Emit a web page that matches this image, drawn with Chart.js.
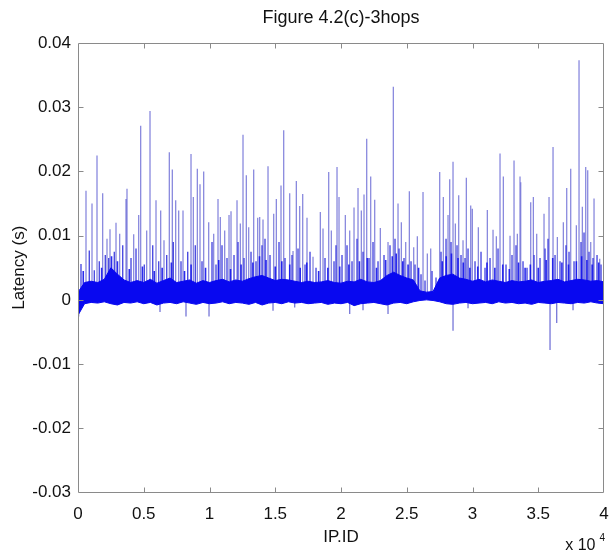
<!DOCTYPE html>
<html lang="en">
<head>
    <meta charset="UTF-8">
    <title>Figure 4.2(c)-3hops</title>
    <script src="https://cdn.jsdelivr.net/npm/chart.js"></script>
    <style>
        body { margin: 0; background: #fff; }
    </style>
</head>
<body>
    <canvas id="myChart" width="613" height="554"></canvas>

    <script>
        // tick values and their labels (x is in units of 10^4)
        const xTickValues = [0, 5000, 10000, 15000, 20000, 25000, 30000, 35000, 40000];
        const xTickLabels = ['0', '0.5', '1', '1.5', '2', '2.5', '3', '3.5', '4'];
        const yTickValues = [-0.03, -0.02, -0.01, 0, 0.01, 0.02, 0.03, 0.04];
        const yTickLabels = ['-0.03', '-0.02', '-0.01', '0', '0.01', '0.02', '0.03', '0.04'];

        // dense band of the latency trace: upper / lower edge every 500 IP.IDs
        const bandIds = [
            0, 500, 1000, 1500, 2000, 2500, 3000, 3500, 4000, 4500,
            5000, 5500, 6000, 6500, 7000, 7500, 8000, 8500, 9000, 9500,
            10000, 10500, 11000, 11500, 12000, 12500, 13000, 13500, 14000, 14500,
            15000, 15500, 16000, 16500, 17000, 17500, 18000, 18500, 19000, 19500,
            20000, 20500, 21000, 21500, 22000, 22500, 23000, 23500, 24000, 24500,
            25000, 25500, 26000, 26500, 27000, 27500, 28000, 28500, 29000, 29500,
            30000, 30500, 31000, 31500, 32000, 32500, 33000, 33500, 34000, 34500,
            35000, 35500, 36000, 36500, 37000, 37500, 38000, 38500, 39000, 39500,
            40000
        ];
        const bandUpper = [
            0.0012, 0.0027, 0.0029, 0.0027, 0.0032, 0.0050, 0.0040, 0.0031, 0.0027, 0.0030,
            0.0027, 0.0032, 0.0026, 0.0030, 0.0034, 0.0027, 0.0029, 0.0031, 0.0026, 0.0030,
            0.0027, 0.0030, 0.0032, 0.0028, 0.0031, 0.0029, 0.0033, 0.0036, 0.0038, 0.0034,
            0.0030, 0.0032, 0.0031, 0.0029, 0.0027, 0.0029, 0.0027, 0.0028, 0.0030, 0.0027,
            0.0026, 0.0029, 0.0028, 0.0032, 0.0028, 0.0027, 0.0030, 0.0038, 0.0043, 0.0038,
            0.0034, 0.0031, 0.0014, 0.0012, 0.0013, 0.0034, 0.0038, 0.0040, 0.0034, 0.0032,
            0.0029, 0.0032, 0.0028, 0.0031, 0.0029, 0.0027, 0.0030, 0.0028, 0.0029, 0.0031,
            0.0027, 0.0029, 0.0030, 0.0032, 0.0028, 0.0030, 0.0032, 0.0031, 0.0029, 0.0030,
            0.0028
        ];
        const bandLower = [
            -0.0024, -0.0006, -0.0004, -0.0005, -0.0003, -0.0006, -0.0008, -0.0004, -0.0005, -0.0003,
            -0.0006, -0.0004, -0.0008, -0.0005, -0.0004, -0.0006, -0.0003, -0.0005, -0.0007, -0.0004,
            -0.0006, -0.0005, -0.0003, -0.0006, -0.0004, -0.0005, -0.0007, -0.0004, -0.0008, -0.0005,
            -0.0004, -0.0006, -0.0003, -0.0005, -0.0004, -0.0006, -0.0005, -0.0004, -0.0007, -0.0005,
            -0.0006, -0.0004, -0.0009, -0.0006, -0.0005, -0.0004, -0.0006, -0.0008, -0.0005, -0.0004,
            -0.0006, -0.0003, -0.0001, 0.0000, -0.0001, -0.0003, -0.0006, -0.0007, -0.0005, -0.0004,
            -0.0006, -0.0005, -0.0004, -0.0006, -0.0003, -0.0005, -0.0004, -0.0006, -0.0005, -0.0007,
            -0.0004, -0.0005, -0.0006, -0.0004, -0.0005, -0.0006, -0.0004, -0.0005, -0.0003, -0.0005,
            -0.0006
        ];

        // tall latency spikes (IP.ID, peak latency in s)
        const spikeIds = [
            608, 1065, 1445, 1878, 2205, 2434, 2890, 3171, 3650, 3726,
            4236, 4616, 4768, 5225, 5476, 5932, 6289, 6540, 6943, 7171,
            7430, 7658, 7985, 8594, 8769, 9073, 9278, 9559, 9940, 10320,
            10647, 10822, 11156, 11484, 11636, 12092, 12343, 12548, 12799, 12982,
            13362, 13666, 13818, 14069, 14450, 14883, 15081, 15438, 15644, 16100,
            16351, 16602, 16860, 17089, 17415, 17872, 18427, 18632, 19066, 19263,
            19697, 19849, 20328, 20663, 20990, 21294, 21545, 21750, 21956, 22260,
            22564, 22990, 23576, 23978, 24336, 24587, 24922, 25196, 25530, 25804,
            26237, 26564, 26823, 27507, 27781, 28139, 28268, 28519, 28694, 28952,
            29279, 29530, 29865, 29986, 30443, 31127, 31561, 31812, 32093, 32344,
            32854, 33158, 33409, 33614, 33667, 34428, 34626, 34884, 35439, 35820,
            36124, 36451, 36907, 37166, 37470, 37896, 38101, 38352, 38611, 38763,
            38991, 39242, 39676
        ];
        const spikePeaks = [
            0.0170, 0.0150, 0.0225, 0.0166, 0.0095, 0.0110, 0.0120, 0.0103, 0.0157, 0.0173,
            0.0102, 0.0132, 0.0271, 0.0108, 0.0294, 0.0155, 0.0139, 0.0093, 0.0230, 0.0203,
            0.0155, 0.0139, 0.0139, 0.0227, 0.0160, 0.0204, 0.0180, 0.0200, 0.0121, 0.0103,
            0.0157, 0.0129, 0.0108, 0.0132, 0.0138, 0.0155, 0.0119, 0.0257, 0.0194, 0.0113,
            0.0203, 0.0128, 0.0129, 0.0125, 0.0208, 0.0134, 0.0157, 0.0178, 0.0264, 0.0166,
            0.0076, 0.0185, 0.0146, 0.0165, 0.0128, 0.0067, 0.0137, 0.0111, 0.0199, 0.0108,
            0.0207, 0.0160, 0.0132, 0.0108, 0.0144, 0.0174, 0.0139, 0.0164, 0.0251, 0.0192,
            0.0156, 0.0112, 0.0090, 0.0332, 0.0150, 0.0121, 0.0090, 0.0169, 0.0082, 0.0099,
            0.0168, 0.0072, 0.0080, 0.0199, 0.0160, 0.0132, 0.0188, 0.0215, 0.0119, 0.0163,
            0.0093, 0.0190, 0.0147, 0.0142, 0.0113, 0.0140, 0.0109, 0.0099, 0.0228, 0.0192,
            0.0100, 0.0217, 0.0103, 0.0192, 0.0183, 0.0152, 0.0160, 0.0103, 0.0134, 0.0160,
            0.0238, 0.0098, 0.0121, 0.0174, 0.0204, 0.0116, 0.0373, 0.0145, 0.0207, 0.0202,
            0.0090, 0.0158, 0.0064
        ];

        // medium spikes just above the band
        const midIds = [
            228, 859, 1240, 1620, 2076, 2335, 2761, 3400, 4031, 4411,
            5042, 5681, 6137, 6746, 7248, 7833, 8343, 8921, 9430, 10191,
            10495, 10951, 11331, 11864, 12168, 12624, 13157, 13537, 13993, 14221,
            14602, 15286, 15742, 16275, 16731, 17264, 17644, 18100, 18784, 19469,
            19621, 20077, 20457, 20838, 21218, 21674, 22131, 22435, 22815, 23271,
            23728, 24108, 24412, 24792, 25325, 25629, 26085, 26389, 26922, 27226,
            27606, 27987, 28367, 28823, 29127, 29432, 29660, 30192, 30648, 30952,
            31333, 31941, 32549, 33005, 33310, 33842, 34146, 34679, 35135, 35515,
            35744, 36276, 36656, 37112, 37340, 37721, 38253, 38481, 38861, 39166,
            39470, 39774
        ];
        const midPeaks = [
            0.0056, 0.0077, 0.0046, 0.0060, 0.0070, 0.0065, 0.0075, 0.0085, 0.0065, 0.0080,
            0.0055, 0.0085, 0.0060, 0.0070, 0.0090, 0.0060, 0.0075, 0.0085, 0.0060, 0.0090,
            0.0055, 0.0085, 0.0065, 0.0070, 0.0090, 0.0065, 0.0075, 0.0060, 0.0085, 0.0095,
            0.0070, 0.0090, 0.0065, 0.0070, 0.0080, 0.0055, 0.0075, 0.0050, 0.0065, 0.0060,
            0.0085, 0.0070, 0.0085, 0.0060, 0.0095, 0.0075, 0.0065, 0.0090, 0.0060, 0.0070,
            0.0085, 0.0095, 0.0080, 0.0065, 0.0060, 0.0055, 0.0040, 0.0030, 0.0045, 0.0035,
            0.0075, 0.0095, 0.0090, 0.0085, 0.0070, 0.0065, 0.0080, 0.0060, 0.0075, 0.0050,
            0.0065, 0.0080, 0.0055, 0.0070, 0.0085, 0.0060, 0.0050, 0.0070, 0.0065, 0.0080,
            0.0095, 0.0070, 0.0060, 0.0085, 0.0075, 0.0060, 0.0090, 0.0105, 0.0075, 0.0065,
            0.0070, 0.0055
        ];

        // small spikes that roughen the top of the band
        const smallIds = [
            400, 1800, 2550, 3000, 3900, 4900, 5800, 6400, 7100, 8100,
            8600, 9700, 10700, 11600, 12400, 13300, 13800, 14300, 15000, 15500,
            16100, 16900, 17400, 18300, 19000, 19900, 20600, 21400, 22000, 22700,
            23400, 23900, 24200, 24700, 25100, 25900, 27700, 28000, 28400, 28900,
            29300, 29800, 30400, 31100, 31700, 32300, 32800, 33500, 34000, 34400,
            35000, 35600, 36100, 36800, 37300, 37900, 38300, 38700, 39100, 39600
        ];
        const smallPeaks = [
            0.0045, 0.0050, 0.0068, 0.0060, 0.0048, 0.0052, 0.0045, 0.0050, 0.0058, 0.0045,
            0.0055, 0.0050, 0.0062, 0.0048, 0.0055, 0.0058, 0.0068, 0.0062, 0.0052, 0.0060,
            0.0055, 0.0050, 0.0058, 0.0045, 0.0050, 0.0052, 0.0055, 0.0060, 0.0065, 0.0050,
            0.0062, 0.0068, 0.0072, 0.0060, 0.0055, 0.0050, 0.0060, 0.0068, 0.0072, 0.0065,
            0.0058, 0.0050, 0.0052, 0.0058, 0.0050, 0.0055, 0.0048, 0.0058, 0.0050, 0.0055,
            0.0050, 0.0062, 0.0065, 0.0058, 0.0055, 0.0060, 0.0068, 0.0062, 0.0055, 0.0058
        ];

        // downward spikes
        const negIds = [53, 6236, 8213, 9963, 14830, 16480, 20663, 21674, 23576, 28519, 29660, 35896, 36405, 37645];
        const negPeaks = [-0.0026, -0.0019, -0.0026, -0.0026, -0.0017, -0.0012, -0.0022, -0.0016, -0.0022, -0.0048, -0.0013, -0.0078, -0.0036, -0.0016];

        const FONT = "'Liberation Sans', Arial, Helvetica, sans-serif";
        const TITLE = 'Figure 4.2(c)-3hops';

        function stems(ids, peaks, base) {
            const pts = [];
            ids.forEach((id, i) => {
                pts.push({ x: id, y: base }, { x: id, y: peaks[i] }, { x: id, y: null });
            });
            return pts;
        }

        // MATLAB style box with inward ticks on all four sides,
        // title centred over the axes and the "x 10^4" note
        const matlabBox = {
            id: 'matlabBox',
            afterDraw(chart) {
                const { ctx, chartArea: a, scales } = chart;
                const L = Math.round(a.left) + 0.5, R = Math.round(a.right) - 0.5;
                const T = Math.round(a.top) + 0.5, B = Math.round(a.bottom) - 0.5;
                const len = 5;
                ctx.save();
                ctx.strokeStyle = '#8a8a8a';
                ctx.lineWidth = 1;
                ctx.beginPath();
                ctx.rect(L, T, R - L, B - T);
                scales.x.ticks.forEach(t => {
                    const px = Math.round(scales.x.getPixelForValue(t.value)) + 0.5;
                    if (px <= L + 1 || px >= R - 1) return;
                    ctx.moveTo(px, B); ctx.lineTo(px, B - len);
                    ctx.moveTo(px, T); ctx.lineTo(px, T + len);
                });
                scales.y.ticks.forEach(t => {
                    const py = Math.round(scales.y.getPixelForValue(t.value)) + 0.5;
                    if (py <= T + 1 || py >= B - 1) return;
                    ctx.moveTo(L, py); ctx.lineTo(L + len, py);
                    ctx.moveTo(R, py); ctx.lineTo(R - len, py);
                });
                ctx.stroke();

                ctx.fillStyle = '#111';
                ctx.textAlign = 'center';
                ctx.textBaseline = 'middle';
                ctx.font = '18px ' + FONT;
                ctx.fillText(TITLE, (a.left + a.right) / 2, 18);

                ctx.textBaseline = 'alphabetic';
                ctx.textAlign = 'right';
                ctx.font = '16px ' + FONT;
                ctx.fillText('x 10', R - 8, 550);
                ctx.textAlign = 'left';
                ctx.font = '10px ' + FONT;
                ctx.fillText('4', R - 4, 541);
                ctx.restore();
            }
        };

        const ctx = document.getElementById('myChart');
        const myChart = new Chart(ctx, {
            type: 'line',
            data: {
                datasets: [
                    {
                        label: 'band upper',
                        data: bandIds.map((id, i) => ({ x: id, y: bandUpper[i] })),
                        borderColor: '#0808f0',
                        backgroundColor: '#0808f0',
                        borderWidth: 1,
                        pointRadius: 0,
                        fill: '+1',
                        tension: 0,
                        order: 0
                    },
                    {
                        label: 'band lower',
                        data: bandIds.map((id, i) => ({ x: id, y: bandLower[i] })),
                        borderColor: '#0808f0',
                        borderWidth: 1,
                        pointRadius: 0,
                        fill: false,
                        order: 0
                    },
                    {
                        label: 'small spikes',
                        data: stems(smallIds, smallPeaks, 0.001),
                        borderColor: 'rgba(20,20,235,0.9)',
                        borderWidth: 1.6,
                        pointRadius: 0,
                        spanGaps: false,
                        order: 1
                    },
                    {
                        label: 'mid spikes',
                        data: stems(midIds, midPeaks, 0.001),
                        borderColor: 'rgba(45,45,220,0.85)',
                        borderWidth: 1.4,
                        pointRadius: 0,
                        spanGaps: false,
                        order: 2
                    },
                    {
                        label: 'spikes',
                        data: stems(spikeIds, spikePeaks, 0.001),
                        borderColor: 'rgba(95,95,210,0.8)',
                        borderWidth: 1.2,
                        pointRadius: 0,
                        spanGaps: false,
                        order: 3
                    },
                    {
                        label: 'negative spikes',
                        data: stems(negIds, negPeaks, 0),
                        borderColor: 'rgba(80,80,205,0.85)',
                        borderWidth: 1.2,
                        pointRadius: 0,
                        spanGaps: false,
                        order: 3
                    }
                ]
            },
            options: {
                responsive: false,
                animation: false,
                layout: { padding: { top: 43, right: 9, bottom: 0, left: 0 } },
                plugins: {
                    legend: { display: false },
                    tooltip: { enabled: false },
                    title: { display: false }
                },
                scales: {
                    x: {
                        type: 'linear',
                        min: 0,
                        max: 40000,
                        grid: { display: false, drawTicks: false },
                        border: { display: false },
                        afterBuildTicks: s => { s.ticks = xTickValues.map(v => ({ value: v })); },
                        afterFit: s => { s.height = 61.5; s.paddingLeft = 0; s.paddingRight = 0; },
                        ticks: {
                            padding: 12,
                            color: '#111',
                            maxRotation: 0,
                            font: { family: FONT, size: 17 },
                            callback: (v, i) => xTickLabels[i]
                        },
                        title: {
                            display: true,
                            text: 'IP.ID',
                            color: '#111',
                            font: { family: FONT, size: 17 },
                            padding: { top: 0, bottom: 6 }
                        }
                    },
                    y: {
                        min: -0.03,
                        max: 0.04,
                        grid: { display: false, drawTicks: false },
                        border: { display: false },
                        afterBuildTicks: s => { s.ticks = yTickValues.map(v => ({ value: v })); },
                        afterFit: s => { s.width = 78; s.paddingTop = 0; s.paddingBottom = 0; },
                        ticks: {
                            padding: 7,
                            color: '#111',
                            font: { family: FONT, size: 17 },
                            callback: (v, i) => yTickLabels[i]
                        },
                        title: {
                            display: true,
                            text: 'Latency (s)',
                            color: '#111',
                            font: { family: FONT, size: 17 },
                            padding: { top: 9, bottom: 0 }
                        }
                    }
                }
            },
            plugins: [matlabBox]
        });
    </script>
</body>
</html>
